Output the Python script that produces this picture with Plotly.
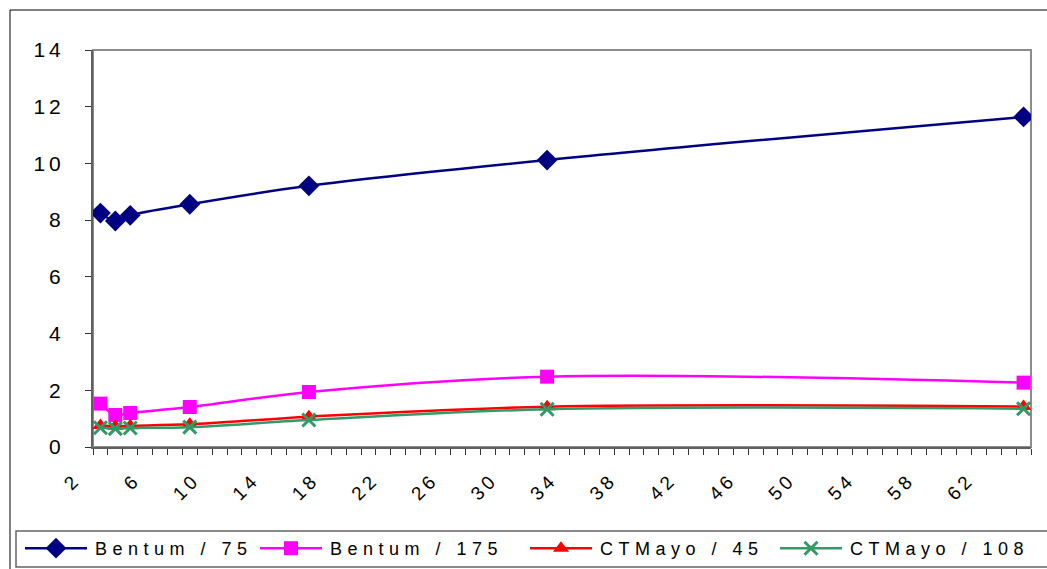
import plotly.graph_objects as go

# Number of categories along the x axis (2 .. 64), data sampled at powers of two
x_vals = [2, 3, 4, 8, 16, 32, 64]
x_tick_vals = list(range(2, 63, 4))
x_tick_text = [str(v) for v in x_tick_vals]

y_tick_vals = [0, 2, 4, 6, 8, 10, 12, 14]

bentum_75 = [8.25, 7.97, 8.17, 8.56, 9.21, 10.12, 11.64]
bentum_175 = [1.53, 1.13, 1.20, 1.41, 1.94, 2.48, 2.27]
ctmayo_45 = [0.76, 0.73, 0.75, 0.80, 1.07, 1.42, 1.43]
ctmayo_108 = [0.68, 0.65, 0.67, 0.70, 0.95, 1.33, 1.35]

series_names = ["Bentum / 75", "Bentum / 175", "CTMayo / 45", "CTMayo / 108"]

W, H = 1047, 569
L, R, T, B = 93, 16, 50, 122
PW, PH = W - L - R, H - T - B


def px(x):
    return (x - L) / PW


def py(y):
    return (H - B - y) / PH


fig = go.Figure()

fig.add_trace(go.Scatter(
    x=x_vals, y=bentum_75, name=series_names[0], mode="lines+markers",
    line=dict(color="#000080", width=2.5, shape="spline"),
    marker=dict(symbol="diamond", size=16, color="#000080"),
    legend="legend",
))
fig.add_trace(go.Scatter(
    x=x_vals, y=bentum_175, name=series_names[1], mode="lines+markers",
    line=dict(color="#FF00FF", width=2.5, shape="spline"),
    marker=dict(symbol="square", size=14, color="#FF00FF"),
    legend="legend2",
))
fig.add_trace(go.Scatter(
    x=x_vals, y=ctmayo_45, name=series_names[2], mode="lines+markers",
    line=dict(color="#FF0000", width=2.5, shape="spline"),
    marker=dict(symbol="triangle-up", size=14, color="#FF0000"),
    legend="legend3",
))
fig.add_trace(go.Scatter(
    x=x_vals, y=ctmayo_108, name=series_names[3], mode="lines+markers",
    line=dict(color="#339966", width=2.5, shape="spline"),
    marker=dict(symbol="x-thin", size=13, color="#339966",
                line=dict(color="#339966", width=3)),
    legend="legend4",
))

font_family = "Liberation Sans, Arial, sans-serif"


def legend_at(text_left_px):
    return dict(
        orientation="h", xref="container", yref="container",
        x=(text_left_px - 40) / W, y=1 - 530 / H, xanchor="left", yanchor="top",
        font=dict(size=18), bgcolor="rgba(0,0,0,0)", borderwidth=0,
        entrywidth=215, entrywidthmode="pixels",
    )


fig.update_layout(
    width=W, height=H,
    margin=dict(l=L, r=R, t=T, b=B, autoexpand=False),
    paper_bgcolor="white", plot_bgcolor="white",
    font=dict(family=font_family, color="black", size=18),
    showlegend=True,
    legend=legend_at(95),
    legend2=legend_at(330),
    legend3=legend_at(600),
    legend4=legend_at(850),
    xaxis=dict(
        range=[1.5, 64.5], tickmode="array", tickvals=x_tick_vals,
        ticktext=x_tick_text, tickangle=-45, ticks="", showgrid=False,
        zeroline=False, showline=True, linecolor="#606060", linewidth=2,
        tickfont=dict(size=19), ticklabelshift=-25, ticklabelstandoff=12,
        automargin=False,
        minor=dict(ticks="outside", tick0=1.5, dtick=1, ticklen=6,
                   tickcolor="#333333", tickwidth=1, showgrid=False),
    ),
    yaxis=dict(
        range=[0, 14], tickmode="array", tickvals=y_tick_vals,
        ticks="outside", ticklen=6, tickcolor="#333333", tickwidth=1,
        showgrid=False, zeroline=False, showline=True, linecolor="#606060",
        linewidth=2, tickfont=dict(size=21), ticklabelstandoff=16,
        automargin=False,
    ),
    shapes=[
        # plot-area frame (top and right edges)
        dict(type="rect", xref="paper", yref="paper", x0=0, x1=1, y0=0, y1=1,
             line=dict(color="#8c8c8c", width=2), layer="below"),
        # outer chart border
        dict(type="rect", xref="paper", yref="paper",
             x0=px(10), x1=px(1070), y0=py(10), y1=py(600),
             line=dict(color="black", width=1), layer="below"),
        # legend box
        dict(type="rect", xref="paper", yref="paper",
             x0=px(16), x1=px(1070), y0=py(531), y1=py(567),
             line=dict(color="#666666", width=1.5), layer="below"),
    ],
)

# wider character spacing for legend and tick texts, and longer legend
# sample lines with the marker centred on them (re-applied after redraws)
spacing_js = """
function styleChart(){
  document.querySelectorAll('text.legendtext, text.legend2text, text.legend3text, text.legend4text')
    .forEach(function(t){t.style.letterSpacing='5.5px';});
  document.querySelectorAll('.xtick text, .ytick text')
    .forEach(function(t){t.style.letterSpacing='4px';});
  document.querySelectorAll('.infolayer .scrollbox').forEach(function(s){s.removeAttribute('clip-path');});
  document.querySelectorAll('.legendlines path').forEach(function(p){p.setAttribute('d','M-30,0h62');});
  document.querySelectorAll('.legendpoints path.scatterpts').forEach(function(p){p.setAttribute('transform','translate(1,0)');});
}
styleChart();
setInterval(styleChart, 30);
"""

fig.write_html("out.html", post_script=spacing_js)
